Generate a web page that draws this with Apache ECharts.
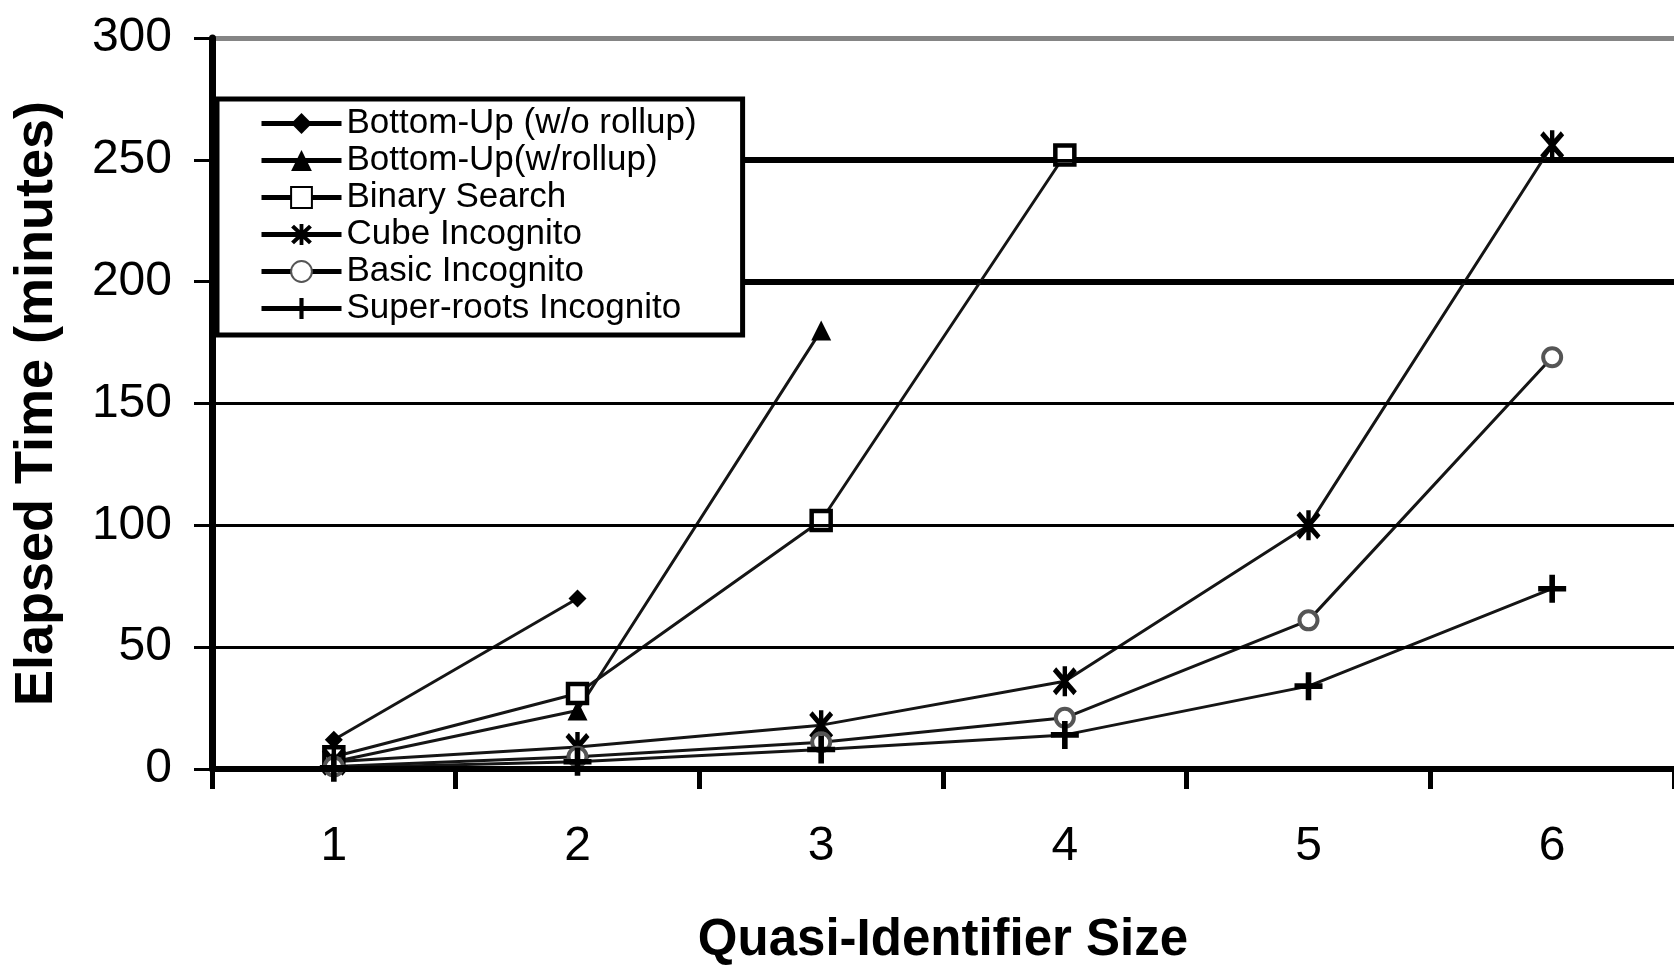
<!DOCTYPE html>
<html>
<head>
<meta charset="utf-8">
<script src="https://cdn.jsdelivr.net/npm/echarts@6/dist/echarts.min.js"></script>
<style>
  html, body { margin: 0; padding: 0; background: #fff; }
  #chart { width: 1674px; height: 971px; }
</style>
</head>
<body>
<div id="chart"></div>
<script>
// Quasi-identifier size on the x axis, elapsed minutes on the y axis
const categories = ['1', '2', '3', '4', '5', '6'];

const bottomUpNoRollup    = [12, 70];
const bottomUpRollup      = [3, 24, 180];
const binarySearch        = [5, 31, 102, 252];
const cubeIncognito       = [3, 9, 18, 36, 100, 256];
const basicIncognito      = [1, 5, 11, 21, 61, 169];
const superRootsIncognito = [0.5, 3, 8, 14, 34, 74];

const seriesNames = [
  'Bottom-Up (w/o rollup)',
  'Bottom-Up(w/rollup)',
  'Binary Search',
  'Cube Incognito',
  'Basic Incognito',
  'Super-roots Incognito'
];

// Emphasised horizontal rules drawn over the regular split lines
const heavyRules = [200, 250];
const topRule = 300;

const FONT = '"Liberation Sans", Arial, Helvetica, sans-serif';

// Marker shapes
const ASTERISK = 'path://M-0.85,-5L0.85,-5L0.85,5L-0.85,5Z' +
  'M-3.35,-4.65L4.65,3.35L3.35,4.65L-4.65,-3.35Z' +
  'M-4.65,3.35L3.35,-4.65L4.65,-3.35L-3.35,4.65Z';
const PLUS = 'path://M-1.1,-5.5L1.1,-5.5L1.1,-1.1L5.5,-1.1L5.5,1.1L1.1,1.1L1.1,5.5L-1.1,5.5L-1.1,1.1L-5.5,1.1L-5.5,-1.1L-1.1,-1.1Z';

const LINE = { color: '#151515', width: 3 };

function lineSeries(name, data, symbol, symbolSize, itemStyle, extra) {
  return Object.assign({
    name: name,
    type: 'line',
    data: data,
    symbol: symbol,
    symbolSize: symbolSize,
    showAllSymbol: true,
    lineStyle: LINE,
    itemStyle: itemStyle,
    z: 3
  }, extra || {});
}

const ruleData = [{ yAxis: topRule, lineStyle: { color: '#858585', width: 5, type: 'solid' } }]
  .concat(heavyRules.map(v => ({ yAxis: v, lineStyle: { color: '#000', width: 6, type: 'solid' } })));

// split line colours, bottom to top (0 … 300); the top rule is grey
const splitColors = ['#000', '#000', '#000', '#000', '#000', '#000', '#858585'];

const chart = echarts.init(document.getElementById('chart'), null, { renderer: 'canvas' });

chart.setOption({
  animation: false,
  backgroundColor: '#fff',
  textStyle: { fontFamily: FONT, color: '#000' },
  grid: { left: 212, top: 38, width: 1466, height: 736 },
  legend: {
    data: seriesNames,
    orient: 'vertical',
    left: 217,
    top: 99,
    itemWidth: 80,
    itemHeight: 26,
    itemGap: 2,
    padding: [7, 46, 9, 42],
    backgroundColor: '#fff',
    borderColor: '#000',
    borderWidth: 5,
    borderRadius: 0,
    lineStyle: { width: 5, color: '#000' },
    textStyle: { fontFamily: FONT, fontSize: 35, color: '#000' },
    z: 10
  },
  xAxis: {
    type: 'category',
    data: categories,
    boundaryGap: true,
    name: 'Quasi-Identifier Size',
    nameLocation: 'middle',
    nameGap: 146,
    nameTextStyle: { fontFamily: FONT, fontSize: 51, fontWeight: 'bold', color: '#000' },
    axisLine: { show: true, lineStyle: { color: '#000', width: 6 } },
    axisTick: { show: true, length: 20, lineStyle: { color: '#000', width: 5 } },
    axisLabel: { fontFamily: FONT, fontSize: 48, color: '#000', margin: 54 },
    splitLine: { show: false },
    z: 5
  },
  yAxis: {
    type: 'value',
    min: 0,
    max: 300,
    interval: 50,
    name: 'Elapsed Time (minutes)',
    nameLocation: 'middle',
    nameGap: 148,
    nameTextStyle: { fontFamily: FONT, fontSize: 54, fontWeight: 'bold', color: '#000' },
    axisLine: { show: true, lineStyle: { color: '#000', width: 7 } },
    axisTick: { show: true, length: 18, lineStyle: { color: '#000', width: 3 } },
    axisLabel: { fontFamily: FONT, fontSize: 48, color: '#000', margin: 40 },
    splitLine: { show: true, lineStyle: { color: splitColors, width: 3 } },
    z: 5
  },
  series: [
    lineSeries(seriesNames[0], bottomUpNoRollup, 'diamond', 18,
      { color: '#000', borderWidth: 0 }),
    lineSeries(seriesNames[1], bottomUpRollup, 'triangle', 20,
      { color: '#000', borderWidth: 0 }),
    lineSeries(seriesNames[2], binarySearch, 'rect', 19,
      { color: '#fff', borderColor: '#000', borderWidth: 4.5 }),
    lineSeries(seriesNames[3], cubeIncognito, ASTERISK, [24, 30],
      { color: '#000', borderWidth: 0 }, {
        markLine: {
          silent: true,
          symbol: 'none',
          z: 1,
          label: { show: false },
          emphasis: { disabled: true },
          data: ruleData
        }
      }),
    lineSeries(seriesNames[4], basicIncognito, 'circle', 18,
      { color: '#fff', borderColor: '#555', borderWidth: 4 }),
    lineSeries(seriesNames[5], superRootsIncognito, PLUS, 28,
      { color: '#000', borderWidth: 0 })
  ]
});
</script>
</body>
</html>
